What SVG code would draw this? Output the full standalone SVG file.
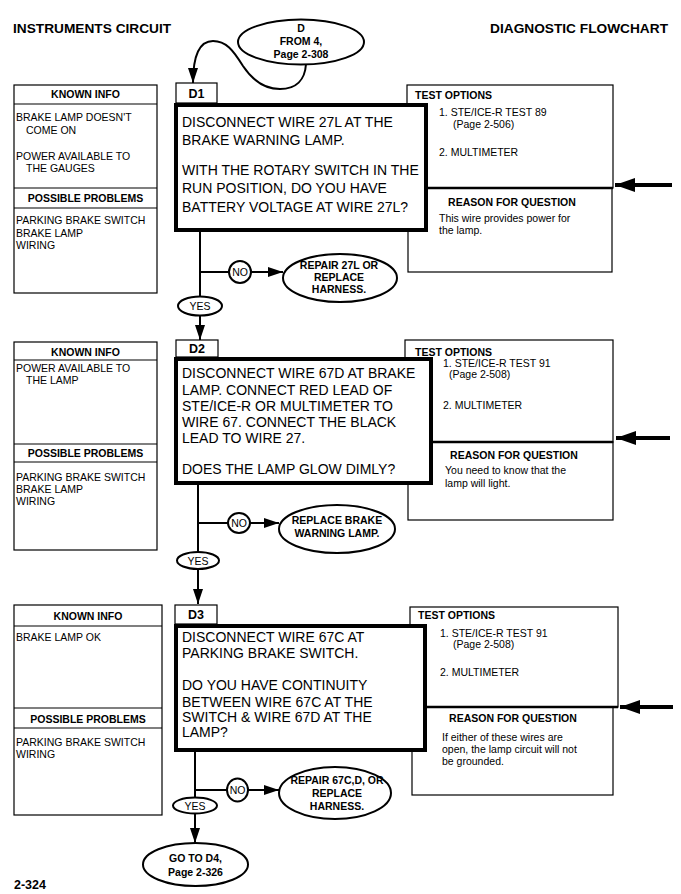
<svg xmlns="http://www.w3.org/2000/svg" width="681" height="894" viewBox="0 0 681 894">
<defs>
<style>
.box{fill:#fff;stroke:#000;stroke-width:1.2}
.main{fill:#fff;stroke:#000;stroke-width:4}
.term{fill:#fff;stroke:#000;stroke-width:2}
.conn{fill:none;stroke:#000;stroke-width:2}
.div{stroke:#000;stroke-width:2.5}
.big{fill:none;stroke:#000;stroke-width:4}
text{font-family:"Liberation Sans",Arial,Helvetica,sans-serif;fill:#000}
.q{font-size:14px}
.s{font-size:10.5px}
.h{font-size:10.5px;font-weight:bold}
.lb{font-size:12.5px;font-weight:bold}
.ttl{font-size:13.7px;font-weight:bold}
.yn{font-size:10.5px}
.c{text-anchor:middle}
</style>
<marker id="arr" markerUnits="userSpaceOnUse" markerWidth="15" markerHeight="10" refX="15" refY="5" orient="auto"><path d="M0,0 L15,5 L0,10 Z" fill="#000"/></marker>
<marker id="bigarr" markerUnits="userSpaceOnUse" markerWidth="20" markerHeight="14" refX="20" refY="7" orient="auto"><path d="M0,0 L20,7 L0,14 Z" fill="#000"/></marker>
</defs>
<rect width="681" height="894" fill="#fff"/>

<g id="header">
<text class="ttl" x="13" y="33">INSTRUMENTS CIRCUIT</text>
<text class="ttl" x="668" y="33" text-anchor="end">DIAGNOSTIC FLOWCHART</text>
</g>

<g id="start">
<ellipse class="term" cx="301" cy="42" rx="63" ry="22.5"/>
<text class="h c" x="301" y="32">D</text>
<text class="h c" x="301" y="45">FROM 4,</text>
<text class="h c" x="301" y="58">Page 2-308</text>
</g>

<!-- D1 section -->
<g id="known1">
<rect class="box" x="14" y="85" width="143" height="208"/>
<line class="box" x1="14" y1="104" x2="157" y2="104"/>
<line class="box" x1="14" y1="188" x2="157" y2="188"/>
<line class="box" x1="14" y1="208" x2="157" y2="208"/>
<text class="h c" x="85.5" y="98">KNOWN INFO</text>
<text class="s" x="16" y="121">BRAKE LAMP DOESN'T</text>
<text class="s" x="26" y="134">COME ON</text>
<text class="s" x="16" y="160">POWER AVAILABLE TO</text>
<text class="s" x="26" y="172">THE GAUGES</text>
<text class="h c" x="85.5" y="202">POSSIBLE PROBLEMS</text>
<text class="s" x="16" y="224">PARKING BRAKE SWITCH</text>
<text class="s" x="16" y="237">BRAKE LAMP</text>
<text class="s" x="16" y="249">WIRING</text>
</g>

<g id="test1">
<rect class="box" x="407" y="85" width="206" height="103"/>
<rect class="box" x="408" y="188" width="204" height="84"/>
<line class="div" x1="428" y1="188" x2="613" y2="188"/>
<text class="h" x="415" y="99">TEST OPTIONS</text>
<text class="s" x="439" y="116">1. STE/ICE-R TEST 89</text>
<text class="s" x="453" y="128">(Page 2-506)</text>
<text class="s" x="439" y="156">2. MULTIMETER</text>
<text class="h c" x="512" y="206">REASON FOR QUESTION</text>
<text class="s" x="439" y="222">This wire provides power for</text>
<text class="s" x="439" y="234">the lamp.</text>
<line class="big" x1="672" y1="185" x2="615" y2="185" marker-end="url(#bigarr)"/>
</g>

<g id="D1">
<rect class="box" x="176" y="83" width="41" height="20"/>
<text class="lb c" x="196.5" y="98">D1</text>
<rect class="main" x="176" y="105" width="250" height="125"/>
<text class="q" x="182" y="127">DISCONNECT WIRE 27L AT THE</text>
<text class="q" x="182" y="145">BRAKE WARNING LAMP.</text>
<text class="q" x="182" y="175">WITH THE ROTARY SWITCH IN THE</text>
<text class="q" x="182" y="193">RUN POSITION, DO YOU HAVE</text>
<text class="q" x="182" y="212">BATTERY VOLTAGE AT WIRE 27L?</text>
</g>

<g id="repair1">
<ellipse class="term" cx="340" cy="278" rx="57" ry="24"/>
<text class="h c" x="339" y="269">REPAIR 27L OR</text>
<text class="h c" x="339" y="281">REPLACE</text>
<text class="h c" x="339" y="293">HARNESS.</text>
</g>

<!-- D2 section -->
<g id="known2">
<rect class="box" x="14" y="342" width="143" height="208"/>
<line class="box" x1="14" y1="360" x2="157" y2="360"/>
<line class="box" x1="14" y1="444" x2="157" y2="444"/>
<line class="box" x1="14" y1="462" x2="157" y2="462"/>
<text class="h c" x="85.5" y="356">KNOWN INFO</text>
<text class="s" x="16" y="372">POWER AVAILABLE TO</text>
<text class="s" x="26" y="384">THE LAMP</text>
<text class="h c" x="85.5" y="457">POSSIBLE PROBLEMS</text>
<text class="s" x="16" y="481">PARKING BRAKE SWITCH</text>
<text class="s" x="16" y="493">BRAKE LAMP</text>
<text class="s" x="16" y="505">WIRING</text>
</g>

<g id="test2">
<rect class="box" x="405" y="340" width="208" height="102"/>
<rect class="box" x="408" y="442" width="205" height="78"/>
<line class="div" x1="433" y1="442" x2="613" y2="442"/>
<text class="h" x="415" y="356">TEST OPTIONS</text>
<text class="s" x="443" y="367">1. STE/ICE-R TEST 91</text>
<text class="s" x="449" y="378">(Page 2-508)</text>
<text class="s" x="443" y="409">2. MULTIMETER</text>
<text class="h c" x="514" y="459">REASON FOR QUESTION</text>
<text class="s" x="445" y="474">You need to know that the</text>
<text class="s" x="445" y="487">lamp will light.</text>
<line class="big" x1="670" y1="438" x2="616" y2="438" marker-end="url(#bigarr)"/>
</g>

<g id="D2">
<rect class="box" x="176" y="340" width="42" height="17"/>
<text class="lb c" x="197" y="353">D2</text>
<rect class="main" x="176" y="359" width="255" height="124"/>
<text class="q" x="182" y="378">DISCONNECT WIRE 67D AT BRAKE</text>
<text class="q" x="182" y="395">LAMP. CONNECT RED LEAD OF</text>
<text class="q" x="182" y="411">STE/ICE-R OR MULTIMETER TO</text>
<text class="q" x="182" y="427">WIRE 67. CONNECT THE BLACK</text>
<text class="q" x="182" y="443">LEAD TO WIRE 27.</text>
<text class="q" x="182" y="474">DOES THE LAMP GLOW DIMLY?</text>
</g>

<g id="replace2">
<ellipse class="term" cx="337" cy="529" rx="58" ry="24"/>
<text class="h c" x="337" y="524">REPLACE BRAKE</text>
<text class="h c" x="337" y="537">WARNING LAMP.</text>
</g>

<!-- D3 section -->
<g id="known3">
<rect class="box" x="14" y="605" width="148" height="210"/>
<line class="box" x1="14" y1="626" x2="162" y2="626"/>
<line class="box" x1="14" y1="708" x2="162" y2="708"/>
<line class="box" x1="14" y1="728" x2="162" y2="728"/>
<text class="h c" x="88" y="620">KNOWN INFO</text>
<text class="s" x="16" y="641">BRAKE LAMP OK</text>
<text class="h c" x="88" y="723">POSSIBLE PROBLEMS</text>
<text class="s" x="16" y="746">PARKING BRAKE SWITCH</text>
<text class="s" x="16" y="758">WIRING</text>
</g>

<g id="test3">
<rect class="box" x="410" y="607" width="208" height="100"/>
<rect class="box" x="412" y="707" width="201" height="88"/>
<line class="div" x1="427" y1="707" x2="618" y2="707"/>
<text class="h" x="418" y="619">TEST OPTIONS</text>
<text class="s" x="440" y="637">1. STE/ICE-R TEST 91</text>
<text class="s" x="453" y="648">(Page 2-508)</text>
<text class="s" x="440" y="676">2. MULTIMETER</text>
<text class="h c" x="513" y="722">REASON FOR QUESTION</text>
<text class="s" x="442" y="741">If either of these wires are</text>
<text class="s" x="442" y="753">open, the lamp circuit will not</text>
<text class="s" x="442" y="765">be grounded.</text>
<line class="big" x1="673" y1="707" x2="620" y2="707" marker-end="url(#bigarr)"/>
</g>

<g id="D3">
<rect class="box" x="175" y="605" width="42" height="19"/>
<text class="lb c" x="196" y="619">D3</text>
<rect class="main" x="176" y="626" width="249" height="124"/>
<text class="q" x="182" y="642">DISCONNECT WIRE 67C AT</text>
<text class="q" x="182" y="658">PARKING BRAKE SWITCH.</text>
<text class="q" x="182" y="690">DO YOU HAVE CONTINUITY</text>
<text class="q" x="182" y="707">BETWEEN WIRE 67C AT THE</text>
<text class="q" x="182" y="722">SWITCH &amp; WIRE 67D AT THE</text>
<text class="q" x="182" y="737">LAMP?</text>
</g>

<g id="repair3">
<ellipse class="term" cx="335" cy="793" rx="56" ry="26"/>
<text class="h c" x="337" y="784">REPAIR 67C,D, OR</text>
<text class="h c" x="337" y="797">REPLACE</text>
<text class="h c" x="337" y="810">HARNESS.</text>
</g>

<g id="goto">
<ellipse class="term" cx="195.5" cy="864.5" rx="52.5" ry="21.5"/>
<text class="h c" x="195.5" y="862">GO TO D4,</text>
<text class="h c" x="195.5" y="876">Page 2-326</text>
</g>

<g id="footer">
<text class="lb" x="14" y="889">2-324</text>
</g>

<g id="connectors">
<path class="conn" d="M306,64 C305,80 296,89 280,89 C262,89 251,78 243,66 C233,50 226,41 213,41 C199,41 193,55 193,83" marker-end="url(#arr)"/>
<!-- D1 -->
<line class="conn" x1="200" y1="232" x2="200" y2="296"/>
<line class="conn" x1="200" y1="272" x2="229" y2="272"/>
<ellipse class="term" cx="240" cy="272" rx="11" ry="11"/>
<text class="yn c" x="240" y="276">NO</text>
<line class="conn" x1="251" y1="272" x2="283" y2="272" marker-end="url(#arr)"/>
<ellipse class="term" cx="200" cy="306" rx="22" ry="9.5"/>
<text class="yn c" x="200" y="310">YES</text>
<line class="conn" x1="200" y1="315.5" x2="200" y2="340" marker-end="url(#arr)"/>
<!-- D2 -->
<line class="conn" x1="198" y1="485" x2="198" y2="552"/>
<line class="conn" x1="198" y1="523" x2="228" y2="523"/>
<ellipse class="term" cx="239" cy="523" rx="11" ry="10"/>
<text class="yn c" x="239" y="527">NO</text>
<line class="conn" x1="250" y1="523" x2="279" y2="523" marker-end="url(#arr)"/>
<ellipse class="term" cx="198" cy="560.5" rx="21" ry="8.5"/>
<text class="yn c" x="198" y="564.5">YES</text>
<line class="conn" x1="198" y1="569" x2="198" y2="604" marker-end="url(#arr)"/>
<!-- D3 -->
<line class="conn" x1="195" y1="752" x2="195" y2="798"/>
<line class="conn" x1="195" y1="790" x2="227" y2="790"/>
<ellipse class="term" cx="237.5" cy="790" rx="10.5" ry="11.5"/>
<text class="yn c" x="237.5" y="794">NO</text>
<line class="conn" x1="248" y1="790" x2="279" y2="790" marker-end="url(#arr)"/>
<ellipse class="term" cx="195" cy="805.5" rx="22" ry="8"/>
<text class="yn c" x="195" y="809.5">YES</text>
<line class="conn" x1="195" y1="813.5" x2="195" y2="843" marker-end="url(#arr)"/>
</g>
</svg>
